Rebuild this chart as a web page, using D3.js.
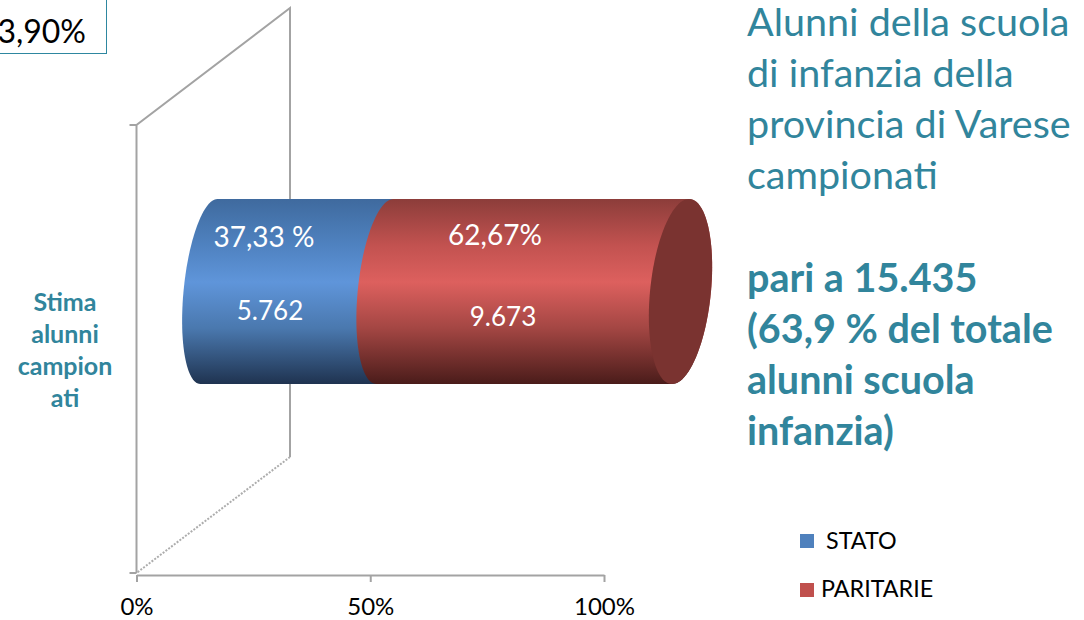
<!DOCTYPE html>
<html>
<head>
<meta charset="utf-8">
<script src="https://cdn.jsdelivr.net/npm/d3@7.9.0/dist/d3.min.js"></script>
<style>
  html, body { margin: 0; padding: 0; background: #fff; overflow: hidden; }
  text { font-family: Lato, "Open Sans", sans-serif; }
</style>
</head>
<body>
<svg id="chart" width="1084" height="620"></svg>
<script>
const categories = ["Stima alunni campionati"];
const seriesNames = ["STATO", "PARITARIE"];
const percentValues = [37.33, 62.67];
const pupilCounts = ["5.762", "9.673"];
const percentLabels = ["37,33 %", "62,67%"];
const xTicks = [0, 50, 100];
const boxLabel = "3,90%";
const titleLines = ["Alunni della scuola", "di infanzia della", "provincia di Varese", "campionati"];
const boldLines = ["pari a 15.435", "(63,9 % del totale", "alunni scuola", "infanzia)"];
const categoryLines = ["Stima", "alunni", "campion", "ati"];

const teal = "#31859c";
const wallGray = "#a3a3a3";
const sideColors = ["#4f81bd", "#c0504d"];

const svg = d3.select("#chart");
const x = d3.scaleLinear().domain([0, 100]).range([136.5, 604]);
const y = d3.scaleBand().domain(categories).range([125, 573]).paddingOuter(0.71);

// 3d depth of the plot box, bars sit in the middle of it
const depthX = 153.5;
const depthY = -116;
const cy = y(categories[0]) + y.bandwidth() / 2 + depthY / 2 + 0.5;
const ry = y.bandwidth() / 2;
const skew = 8.5;
// cylinder runs on its own scale, the ends get wider with perspective
const cx = d3.scaleLinear().domain([0, 100]).range([209, 680.5]);
const rx = d3.scaleLinear().domain([0, 100]).range([25.5, 30.5]);

// gradients
const defs = svg.append("defs");
const stops = [
  ["#3f6a9e", "#4f82c0", "#5f95da", "#4a78ae", "#1f3350"],
  ["#8c3d3a", "#c25250", "#dd605e", "#a34643", "#4a1c1a"]
];
stops.forEach((colors, i) => {
  const g = defs.append("linearGradient")
    .attr("id", "grad" + i)
    .attr("x1", 0).attr("x2", 0).attr("y1", 0).attr("y2", 1);
  [0, 0.25, 0.45, 0.7, 1].forEach((o, j) => {
    g.append("stop").attr("offset", o).attr("stop-color", colors[j]);
  });
});

// back wall
const wallLine = d3.line();
const x0 = x(0);
const yTop = 125;
const yBot = 573;
svg.append("path")
  .attr("d", wallLine([[x0, yBot], [x0, yTop], [x0 + depthX, yTop + depthY - 1], [x0 + depthX, yBot + depthY]]))
  .attr("fill", "none").attr("stroke", wallGray).attr("stroke-width", 2);
svg.append("path")
  .attr("d", wallLine([[x0 + depthX, yBot + depthY], [x0, yBot]]))
  .attr("fill", "none").attr("stroke", "#adadad").attr("stroke-width", 2).attr("stroke-dasharray", "2,1.5");
[yTop, yBot].forEach(v => {
  svg.append("line").attr("x1", x0 - 7).attr("x2", x0).attr("y1", v).attr("y2", v)
    .attr("stroke", wallGray).attr("stroke-width", 2);
});

// x axis
const axis = svg.append("g")
  .attr("transform", `translate(0,${yBot + 2})`)
  .call(d3.axisBottom(x).tickValues(xTicks).tickFormat(d => d + "%").tickSize(7).tickSizeOuter(0));
axis.select(".domain").attr("stroke", wallGray).attr("stroke-width", 2);
axis.selectAll(".tick line").attr("stroke", wallGray).attr("stroke-width", 2);
axis.selectAll(".tick text")
  .attr("y", 32).attr("dy", "0.32em")
  .attr("fill", "#000").style("font-size", "24px").style("font-family", "Lato, sans-serif");

// cylinder helpers
const steps = d3.range(0, 49).map(i => i / 48 * Math.PI);
const side = (v, sign) => steps.map(t => {
  const a = sign > 0 ? Math.PI / 2 - t : Math.PI / 2 + t;
  return [cx(v) + rx(v) * Math.cos(a) + skew * Math.sin(a), cy - ry * Math.sin(a)];
});

const stack = d3.stack().keys(d3.range(percentValues.length))(
  [percentValues]
);
stack.forEach((s, i) => {
  const [from, to] = s[0];
  const outline = side(to, 1).concat(side(from, -1).reverse());
  svg.append("path")
    .attr("d", d3.line()(outline) + "Z")
    .attr("fill", `url(#grad${i})`);
  if (i === stack.length - 1) {
    svg.append("path")
      .attr("d", d3.line()(side(to, 1).concat(side(to, -1).reverse())) + "Z")
      .attr("fill", "#7a3330");
  }
});

// value labels
const labelSpot = [
  { pct: [264, 237], n: [270, 311] },
  { pct: [495, 235], n: [503, 317] }
];
percentValues.forEach((d, i) => {
  svg.append("text").text(percentLabels[i])
    .attr("x", labelSpot[i].pct[0]).attr("y", labelSpot[i].pct[1]).attr("dy", "0.35em")
    .attr("text-anchor", "middle").attr("fill", "#fff").style("font-size", "28px");
  svg.append("text").text(pupilCounts[i])
    .attr("x", labelSpot[i].n[0]).attr("y", labelSpot[i].n[1]).attr("dy", "0.35em")
    .attr("text-anchor", "middle").attr("fill", "#fff").style("font-size", "26px");
});

// box top left, runs off the page
svg.append("rect").attr("x", -20).attr("y", -20).attr("width", 126.5).attr("height", 73.5)
  .attr("fill", "#fff").attr("stroke", "#2e87a0").attr("stroke-width", 1);
svg.append("text").text(boxLabel)
  .attr("x", 86).attr("y", 43).attr("text-anchor", "end")
  .attr("fill", "#000").style("font-size", "32px");

// category label
categoryLines.forEach((t, i) => {
  svg.append("text").text(t)
    .attr("x", 65).attr("y", 311 + i * 32)
    .attr("text-anchor", "middle").attr("fill", teal)
    .style("font-size", "25px").style("font-weight", "700");
});

// title block
titleLines.forEach((t, i) => {
  svg.append("text").text(t)
    .attr("x", 747).attr("y", 36 + i * 51)
    .attr("fill", teal).style("font-size", "39.5px");
});
boldLines.forEach((t, i) => {
  svg.append("text").text(t)
    .attr("x", 747).attr("y", 292 + i * 51)
    .attr("fill", teal).style("font-size", "39.5px").style("font-weight", "700");
});

// legend
const legendSpot = [{ y: 534, tx: 826, ty: 549 }, { y: 583, tx: 821, ty: 597 }];
seriesNames.forEach((name, i) => {
  svg.append("rect").attr("x", 800).attr("y", legendSpot[i].y).attr("width", 14).attr("height", 14)
    .attr("fill", sideColors[i]);
  svg.append("text").text(name)
    .attr("x", legendSpot[i].tx).attr("y", legendSpot[i].ty)
    .attr("fill", "#000").style("font-size", "23.3px");
});
</script>
</body>
</html>
